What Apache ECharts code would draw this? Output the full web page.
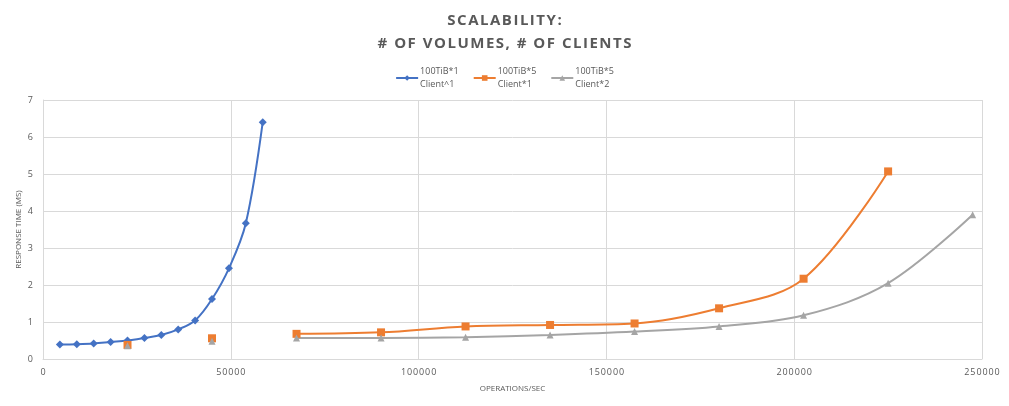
<!DOCTYPE html>
<html>
<head>
<meta charset="utf-8">
<script src="https://cdn.jsdelivr.net/npm/echarts@6/dist/echarts.min.js"></script>
<style>
html,body{margin:0;padding:0;background:#fff;}
#chart{width:1009px;height:406px;}
</style>
</head>
<body>
<div id="chart"></div>
<script>
// x values (operations/sec)
var blueX = [4500, 9000, 13500, 18000, 22500, 27000, 31500, 36000, 40500, 45000, 49500, 54000, 58500];
var blueY = [0.39, 0.40, 0.42, 0.46, 0.50, 0.57, 0.65, 0.80, 1.04, 1.62, 2.45, 3.67, 6.40];
var orangeX = [22500, 45000, 67500, 90000, 112500, 135000, 157500, 180000, 202500, 225000];
var orangeY = [0.38, 0.56, 0.68, 0.72, 0.88, 0.92, 0.96, 1.37, 2.17, 5.07];
var grayX = [22500, 45000, 67500, 90000, 112500, 135000, 157500, 180000, 202500, 225000, 247500];
var grayY = [0.36, 0.48, 0.57, 0.57, 0.59, 0.65, 0.74, 0.88, 1.18, 2.05, 3.90];
// the first two points of the 5-volume series stand alone (blank cells between them)
var breakAfter = [0, 1];
var seriesNames = ['100TiB*1\nClient^1', '100TiB*5\nClient*1', '100TiB*5\nClient*2'];

function pairs(xs, ys, gaps){
    var out = [];
    xs.forEach(function(x, i){
        out.push([x, ys[i]]);
        if (gaps && gaps.indexOf(i) >= 0) out.push('-');
    });
    return out;
}
// fake letter spacing with hair spaces
function spaced(s){
    return s.split('\n').map(function(l){ return l.split('').join('\u200A'); }).join('\n');
}

var txt = '#595959';
var chart = echarts.init(document.getElementById('chart'));
var option = {
    animation: false,
    title: {
        text: spaced('SCALABILITY:\n# OF VOLUMES, # OF CLIENTS'),
        left: 'center',
        top: 4,
        textStyle: {color: txt, fontSize: 15, fontWeight: 'bold', lineHeight: 23, fontFamily: 'Open Sans'}
    },
    legend: {
        top: 60,
        left: 'center',
        itemWidth: 22,
        itemHeight: 7,
        itemGap: 14,
        textStyle: {color: txt, fontSize: 9, lineHeight: 13, fontFamily: 'Open Sans', padding: [0, 0, 0, -3]},
        data: seriesNames
    },
    grid: {left: 43, right: 27, top: 100, bottom: 47},
    xAxis: {
        type: 'value',
        min: 0, max: 250000, interval: 50000,
        name: 'OPERATIONS/SEC',
        nameLocation: 'middle',
        nameGap: 26,
        nameTextStyle: {color: txt, fontSize: 8, fontFamily: 'Open Sans'},
        axisLine: {lineStyle: {color: '#D9D9D9'}},
        axisTick: {show: false},
        axisLabel: {
            color: txt, fontSize: 9, margin: 9, fontFamily: 'Open Sans',
            formatter: function(v){ return spaced(String(v)); }
        },
        splitLine: {show: true, lineStyle: {color: '#D9D9D9'}}
    },
    yAxis: {
        type: 'value',
        min: 0, max: 7, interval: 1,
        name: 'RESPONSE TIME (MS)',
        nameLocation: 'middle',
        nameGap: 20,
        nameMoveOverlap: false,
        nameTextStyle: {color: txt, fontSize: 8, fontFamily: 'Open Sans'},
        axisLine: {show: true, lineStyle: {color: '#D9D9D9'}},
        axisTick: {show: false},
        axisLabel: {color: txt, fontSize: 9, margin: 10, fontFamily: 'Open Sans'},
        splitLine: {lineStyle: {color: '#D9D9D9'}}
    },
    series: [
        {
            name: seriesNames[0], type: 'line', smooth: 0.35,
            symbol: 'diamond', symbolSize: 8,
            itemStyle: {color: '#4472C4'},
            lineStyle: {width: 2, color: '#4472C4'},
            data: pairs(blueX, blueY)
        },
        {
            name: seriesNames[1], type: 'line', smooth: 0.35,
            symbol: 'rect', symbolSize: 8,
            connectNulls: false,
            itemStyle: {color: '#ED7D31'},
            lineStyle: {width: 2, color: '#ED7D31'},
            data: pairs(orangeX, orangeY, breakAfter)
        },
        {
            name: seriesNames[2], type: 'line', smooth: 0.35,
            symbol: 'triangle', symbolSize: 7,
            connectNulls: false,
            itemStyle: {color: '#A5A5A5'},
            lineStyle: {width: 2, color: '#A5A5A5'},
            data: pairs(grayX, grayY, breakAfter)
        }
    ]
};
chart.setOption(option);
</script>
</body>
</html>
